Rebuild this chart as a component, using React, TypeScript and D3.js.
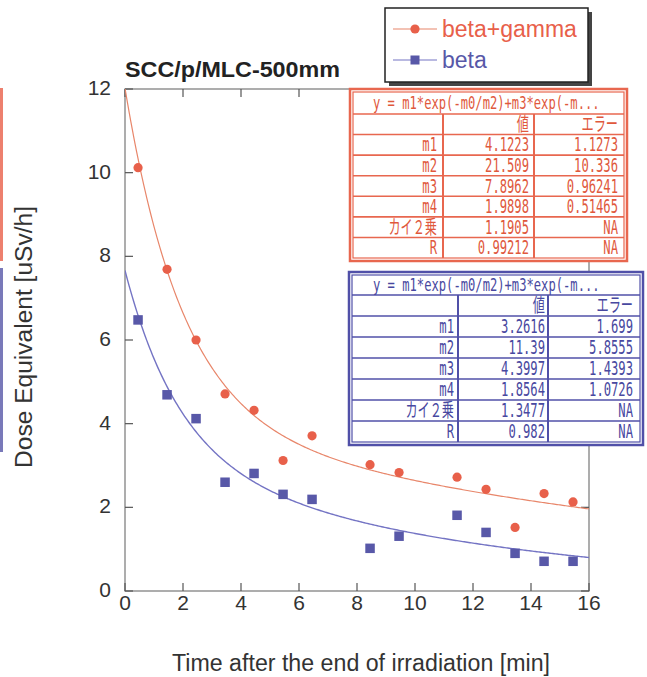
import React from "react";
import * as d3 from "d3";

// ---- data ----
const timeMin = [0.45, 1.45, 2.45, 3.45, 4.45, 5.45, 6.45, 8.45, 9.45, 11.45, 12.45, 13.45, 14.45, 15.45];
const betaGamma = [10.12, 7.69, 6.0, 4.71, 4.32, 3.12, 3.71, 3.02, 2.83, 2.72, 2.43, 1.52, 2.33, 2.13];
const beta = [6.48, 4.69, 4.12, 2.6, 2.81, 2.31, 2.19, 1.02, 1.31, 1.81, 1.4, 0.9, 0.71, 0.71];

// fit parameters shown in the tables: y = m1*exp(-x/m2) + m3*exp(-x/m4)
const fitBetaGamma = [4.1223, 21.509, 7.8962, 1.9898];
const fitBeta = [3.2616, 11.39, 4.3997, 1.8564];

const xTicks = [0, 2, 4, 6, 8, 10, 12, 14, 16];
const yTicks = [0, 2, 4, 6, 8, 10, 12];

const formulaText = "y = m1*exp(-m0/m2)+m3*exp(-m...";
const headerCols = ["値", "エラー"];
const paramNames = ["m1", "m2", "m3", "m4", "カイ２乗", "R"];
const bgValues = ["4.1223", "21.509", "7.8962", "1.9898", "1.1905", "0.99212"];
const bgErrors = ["1.1273", "10.336", "0.96241", "0.51465", "NA", "NA"];
const bValues = ["3.2616", "11.39", "4.3997", "1.8564", "1.3477", "0.982"];
const bErrors = ["1.699", "5.8555", "1.4393", "1.0726", "NA", "NA"];

const RED = "#e8604a";
const RED_LINE = "#e8866a";
const BLUE = "#5858a8";
const BLUE_LINE = "#7474c4";
const SANS = "'Liberation Sans', Arial, sans-serif";
const MONO = "'DejaVu Sans Mono', 'Noto Sans CJK JP', monospace";

const x = d3.scaleLinear().domain([0, 16]).range([125, 589]);
const y = d3.scaleLinear().domain([0, 12]).range([591, 89]);

const fitFn = (p: number[]) => (t: number) => p[0] * Math.exp(-t / p[1]) + p[2] * Math.exp(-t / p[3]);
const sampleX = d3.range(0, 16.0001, 0.05);
const line = d3
  .line<number>()
  .x((t) => x(t))
  .curve(d3.curveLinear);

function fitPath(p: number[]) {
  const f = fitFn(p);
  return line.y((t) => y(f(t)))(sampleX) || "";
}

function CText({ x0, y0, anchor, children, fill, size = 19, sx = 0.64 }: any) {
  return (
    <text
      transform={`translate(${x0},${y0}) scale(${sx},1)`}
      textAnchor={anchor}
      fontFamily={MONO}
      fontSize={size}
      fill={fill}
    >
      {children}
    </text>
  );
}

function FitTable({ ox, oy, ow, oh, headH, cols, labelR, valR, errR, color, textColor, values, errors }: any) {
  const ix = ox + 3, iy = oy + 3, iw = ow - 6, ih = oh - 6;
  const rowTop = iy + headH;
  const nRows = 7;
  const rh = (iy + ih - rowTop) / nRows;
  const rows = [["", headerCols[0], headerCols[1]], ...paramNames.map((n, i) => [n, values[i], errors[i]])];
  return (
    <g>
      <rect x={ox} y={oy} width={ow} height={oh} fill="#fff" stroke={color} strokeWidth={2.5} />
      <rect x={ix} y={iy} width={iw} height={ih} fill="none" stroke={color} strokeWidth={1.2} />
      {d3.range(nRows).map((i) => (
        <line key={i} x1={ix} x2={ix + iw} y1={rowTop + i * rh} y2={rowTop + i * rh} stroke={color} strokeWidth={1.6} />
      ))}
      {cols.map((c: number, i: number) => (
        <line key={i} x1={c} x2={c} y1={rowTop} y2={iy + ih} stroke={color} strokeWidth={2} />
      ))}
      <CText x0={373} y0={iy + headH / 2 + 6} anchor="start" fill={textColor} size={18} sx={0.675}>
        {formulaText}
      </CText>
      {rows.map((r, i) => {
        const by = rowTop + i * rh + rh / 2 + 6.5;
        return (
          <g key={i}>
            <CText x0={labelR} y0={by} anchor="end" fill={textColor}>{r[0]}</CText>
            <CText x0={valR} y0={by} anchor="end" fill={textColor}>{r[1]}</CText>
            <CText x0={errR} y0={by} anchor="end" fill={textColor}>{r[2]}</CText>
          </g>
        );
      })}
    </g>
  );
}

export default function App() {
  const [x0, x1] = x.range();
  const [yb, yt] = y.range();
  return (
    <svg
      width={647}
      height={677}
      style={{ position: "absolute", left: 0, top: 0, background: "#fff" }}
      fontFamily={SANS}
    >
      <defs>
        <clipPath id="plotClip">
          <rect x={x0} y={yt} width={x1 - x0} height={yb - yt} />
        </clipPath>
      </defs>
      <rect width={647} height={677} fill="#fff" />

      {/* left-edge colored bars */}
      <rect x={0} y={88} width={3} height={173} fill={RED} opacity={0.8} />
      <rect x={0} y={268} width={3} height={184} fill={BLUE} opacity={0.8} />

      {/* frame */}
      <rect x={x0} y={yt} width={x1 - x0} height={yb - yt} fill="none" stroke="#777" strokeWidth={1.2} />
      {xTicks.map((t) => (
        <g key={"xt" + t}>
          <line x1={x(t)} x2={x(t)} y1={yb} y2={yb - 8} stroke="#555" strokeWidth={1.2} />
          <line x1={x(t)} x2={x(t)} y1={yt} y2={yt + 8} stroke="#555" strokeWidth={1.2} />
          <text x={x(t)} y={610} textAnchor="middle" fontSize={21} fill="#333">
            {t}
          </text>
        </g>
      ))}
      {yTicks.map((t) => (
        <g key={"yt" + t}>
          <line x1={x0} x2={x0 + 8} y1={y(t)} y2={y(t)} stroke="#555" strokeWidth={1.2} />
          <line x1={x1} x2={x1 - 8} y1={y(t)} y2={y(t)} stroke="#555" strokeWidth={1.2} />
          <text x={111} y={y(t) + 6} textAnchor="end" fontSize={21} fill="#333">
            {t}
          </text>
        </g>
      ))}

      {/* fit curves */}
      <g clipPath="url(#plotClip)">
        <path d={fitPath(fitBetaGamma)} fill="none" stroke={RED_LINE} strokeWidth={1.2} />
        <path d={fitPath(fitBeta)} fill="none" stroke={BLUE_LINE} strokeWidth={1.4} />
      </g>

      {/* points */}
      {timeMin.map((t, i) => (
        <circle key={"c" + i} cx={x(t)} cy={y(betaGamma[i])} r={4.6} fill={RED} />
      ))}
      {timeMin.map((t, i) => (
        <rect key={"s" + i} x={x(t) - 4.75} y={y(beta[i]) - 4.75} width={9.5} height={9.5} fill={BLUE} />
      ))}

      {/* tables */}
      <FitTable
        ox={350} oy={89} ow={277} oh={172} headH={22}
        cols={[443, 534]} labelR={437} valR={529} errR={618}
        color="#e8674f" textColor="#e0583c" values={bgValues} errors={bgErrors}
      />
      <FitTable
        ox={349} oy={272} ow={294} oh={173} headH={20}
        cols={[458, 548]} labelR={454} valR={545} errR={633}
        color="#5050a8" textColor="#4848a0" values={bValues} errors={bErrors}
      />

      {/* legend */}
      <rect x={389} y={12} width={203} height={74} fill="#444" />
      <rect x={385} y={8} width={203} height={74} fill="#fff" stroke="#222" strokeWidth={1.5} />
      <line x1={393} x2={437} y1={29} y2={29} stroke={RED_LINE} strokeWidth={1.2} />
      <circle cx={415} cy={29} r={4.6} fill={RED} />
      <text x={442} y={37} fontSize={23} fill={RED}>beta+gamma</text>
      <line x1={393} x2={437} y1={60} y2={60} stroke={BLUE_LINE} strokeWidth={1.2} />
      <rect x={410.5} y={55.5} width={9} height={9} fill={BLUE} />
      <text x={442} y={68} fontSize={23} fill={BLUE}>beta</text>

      {/* title */}
      <text x={125} y={77} fontSize={22} fontWeight="bold" fill="#222" textLength={215} lengthAdjust="spacingAndGlyphs">
        SCC/p/MLC-500mm
      </text>

      {/* axis labels */}
      <text x={361} y={671} textAnchor="middle" fontSize={23} fill="#333" textLength={378} lengthAdjust="spacingAndGlyphs">
        Time after the end of irradiation [min]
      </text>
      <text transform="translate(32,337) rotate(-90)" textAnchor="middle" fontSize={23} fill="#333" textLength={262} lengthAdjust="spacingAndGlyphs">
        Dose Equivalent [uSv/h]
      </text>
    </svg>
  );
}
